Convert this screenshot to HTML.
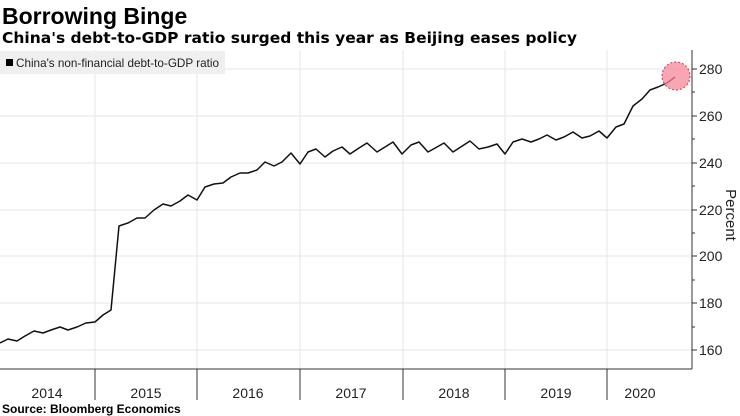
<!DOCTYPE html>
<html><head><style>body{margin:0;background:#fff;}svg{display:block;font-family:"Liberation Sans","DejaVu Sans",sans-serif;}</style></head><body>
<svg width="740" height="416" viewBox="0 0 740 416" xmlns="http://www.w3.org/2000/svg">
<text x="2" y="24" font-size="23" font-weight="bold" fill="#000">Borrowing Binge</text>
<text x="2" y="43" font-size="15" font-weight="bold" fill="#000" font-family="DejaVu Sans, sans-serif" textLength="575" lengthAdjust="spacingAndGlyphs">China's debt-to-GDP ratio surged this year as Beijing eases policy</text>
<g stroke="#e6e6e6" stroke-width="1">
<line x1="0" y1="69" x2="692" y2="69"/><line x1="0" y1="116" x2="692" y2="116"/><line x1="0" y1="163" x2="692" y2="163"/><line x1="0" y1="210" x2="692" y2="210"/><line x1="0" y1="256" x2="692" y2="256"/><line x1="0" y1="303" x2="692" y2="303"/><line x1="0" y1="350" x2="692" y2="350"/>
<line x1="95" y1="50" x2="95" y2="369"/><line x1="197" y1="50" x2="197" y2="369"/><line x1="300" y1="50" x2="300" y2="369"/><line x1="403" y1="50" x2="403" y2="369"/><line x1="505" y1="50" x2="505" y2="369"/><line x1="607" y1="50" x2="607" y2="369"/>
</g>
<rect x="0" y="51" width="225" height="23" fill="#efefef"/>
<rect x="6" y="59" width="7" height="7" fill="#000"/>
<text x="16" y="67" font-size="12" fill="#222" textLength="203" lengthAdjust="spacingAndGlyphs">China's non-financial debt-to-GDP ratio</text>
<polyline fill="none" stroke="#111" stroke-width="1.5" stroke-linejoin="round" points="0,343 8,339 17,341 25,336 34,331 43,333 51,330 60,327 68,330 77,327 86,323 95,322 103,315 111,310 119,226 128,223 137,218 145,218 154,210 163,204 171,206 180,201 188,195 197,200 205,187 214,184 223,183 231,177 240,173 248,173 257,170 265,162 274,166 282,162 291,153 300,164 308,152 316,149 325,157 333,151 342,147 350,154 359,148 367,143 377,152 393,142 402,154 411,145 419,142 428,152 437,147 444,143 453,152 470,141 479,149 488,147 497,144 505,154 513,142 522,139 531,142 539,139 547,135 556,140 564,137 573,132 582,138 590,136 599,131 607,138 616,127 624,124 633,106 642,99 650,90 658,87 667,83 675,77"/>
<circle cx="676" cy="76" r="14" fill="#f7879a" fill-opacity="0.75" stroke="#d9304e" stroke-width="1" stroke-dasharray="2,2"/>
<line x1="0" y1="369" x2="692" y2="369" stroke="#333" stroke-width="1"/>
<line x1="692" y1="50" x2="692" y2="369" stroke="#333" stroke-width="1"/>
<g stroke="#333" stroke-width="1">
<line x1="692" y1="69" x2="697" y2="69"/><line x1="692" y1="116" x2="697" y2="116"/><line x1="692" y1="163" x2="697" y2="163"/><line x1="692" y1="210" x2="697" y2="210"/><line x1="692" y1="256" x2="697" y2="256"/><line x1="692" y1="303" x2="697" y2="303"/><line x1="692" y1="350" x2="697" y2="350"/>
<line x1="692" y1="92" x2="695" y2="92"/><line x1="692" y1="139" x2="695" y2="139"/><line x1="692" y1="186" x2="695" y2="186"/><line x1="692" y1="233" x2="695" y2="233"/><line x1="692" y1="280" x2="695" y2="280"/><line x1="692" y1="327" x2="695" y2="327"/>
<line x1="95" y1="369" x2="95" y2="400"/><line x1="197" y1="369" x2="197" y2="400"/><line x1="300" y1="369" x2="300" y2="400"/><line x1="403" y1="369" x2="403" y2="400"/><line x1="505" y1="369" x2="505" y2="400"/><line x1="607" y1="369" x2="607" y2="400"/>
</g>
<g font-size="14" fill="#222">
<text x="699" y="74">280</text><text x="699" y="121">260</text><text x="699" y="168">240</text><text x="699" y="215">220</text><text x="699" y="261">200</text><text x="699" y="308">180</text><text x="699" y="355">160</text>
</g>
<text x="726" y="215" font-size="15" fill="#222" text-anchor="middle" transform="rotate(90 726 215)">Percent</text>
<g font-size="14" fill="#222" text-anchor="middle">
<text x="47" y="398">2014</text><text x="146" y="398">2015</text><text x="248" y="398">2016</text><text x="351" y="398">2017</text><text x="454" y="398">2018</text><text x="556" y="398">2019</text><text x="640" y="398">2020</text>
</g>
<text x="2" y="413" font-size="12" font-weight="bold" fill="#000">Source: Bloomberg Economics</text>
</svg>
</body></html>
